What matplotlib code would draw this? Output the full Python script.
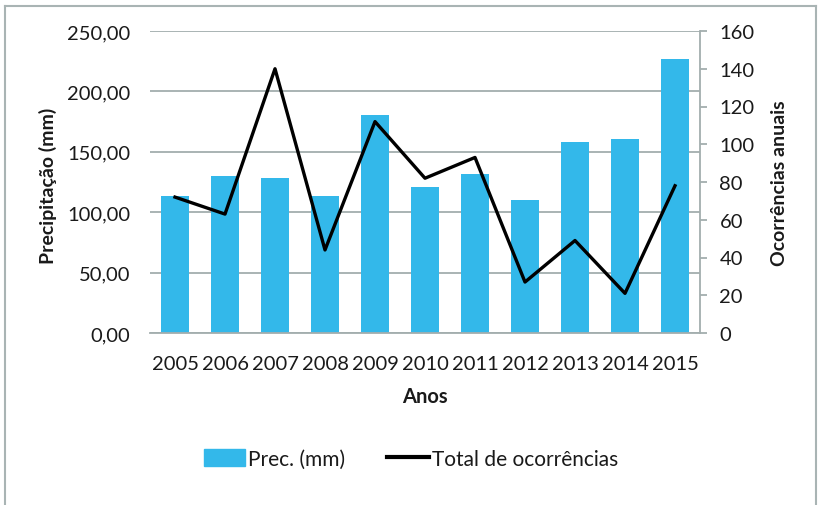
import matplotlib.pyplot as plt
from matplotlib.lines import Line2D
from matplotlib.patches import Patch

plt.rcParams["font.family"] = ["Lato", "DejaVu Sans"]

anos = ["2005", "2006", "2007", "2008", "2009", "2010",
        "2011", "2012", "2013", "2014", "2015"]
precipitacao = [113.5, 130, 128, 113.5, 180.5, 120.5,
                131.5, 110.5, 158, 161, 227]
ocorrencias = [72, 63, 140, 44, 112, 82, 93, 27, 49, 21, 78]

bar_color = "#33B8EA"
grid_color = "#A3AEAE"
txt = "#1a1a1a"

fig = plt.figure(figsize=(8.22, 5.06), dpi=100)
ax = fig.add_axes([150 / 822, 1 - 334 / 506, 550 / 822, 302 / 506])

x = list(range(len(anos)))
ax.bar(x, precipitacao, width=0.56, color=bar_color, zorder=2)
ax.set_xlim(-0.5, len(anos) - 0.5)
ax.set_ylim(0, 250)
ax.set_yticks([0, 50, 100, 150, 200, 250])
ax.set_yticklabels([f"{v:.2f}".replace(".", ",") for v in range(0, 251, 50)])
ax.set_xticks(x)
ax.set_xticklabels(anos)
ax.yaxis.grid(True, color=grid_color, linewidth=1.3, zorder=0)
ax.set_axisbelow(True)
for s in ["top", "left", "right"]:
    ax.spines[s].set_visible(False)
ax.spines["bottom"].set_color(grid_color)
ax.spines["bottom"].set_linewidth(1.3)
ax.tick_params(axis="y", length=0, pad=14, labelsize=14.5, colors=txt)
ax.tick_params(axis="x", length=0, pad=16, labelsize=14.5, colors=txt)

ax2 = ax.twinx()
ax2.plot(x, ocorrencias, color="black", linewidth=2.4, zorder=3)
ax2.set_ylim(0, 160)
ax2.set_yticks(range(0, 161, 20))
for s in ["top", "left", "bottom"]:
    ax2.spines[s].set_visible(False)
ax2.spines["right"].set_color(grid_color)
ax2.spines["right"].set_linewidth(1.3)
ax2.tick_params(axis="y", length=5, width=1.3, color=grid_color, pad=9,
                labelsize=14.5, labelcolor=txt)

fig.text(48 / 822, 1 - 186 / 506, "Precipitação (mm)", rotation=90,
         ha="center", va="center", fontsize=14, fontweight="bold", color=txt)
fig.text(779 / 822, 1 - 183 / 506, "Ocorrências anuais", rotation=90,
         ha="center", va="center", fontsize=14, fontweight="bold", color=txt)
fig.text(425 / 822, 1 - 397 / 506, "Anos", ha="center", va="center",
         fontsize=14.5, fontweight="bold", color=txt)

handles = [Patch(color=bar_color, label="Prec. (mm)"),
           Line2D([], [], color="black", linewidth=3, label="Total de ocorrências")]
fig.legend(handles=handles, loc="center", bbox_to_anchor=(411 / 822, 1 - 460 / 506),
           ncol=2, frameon=False, fontsize=15, handlelength=2.0, handleheight=0.9,
           handletextpad=0.15, columnspacing=2.0, labelcolor=txt)

# outer border (left, top, right)
border = dict(color="#A9B4B4", linewidth=1.5, transform=fig.transFigure)
fig.add_artist(Line2D([5 / 822, 5 / 822], [0, 1 - 7 / 506], **border))
fig.add_artist(Line2D([5 / 822, 816 / 822], [1 - 7 / 506, 1 - 7 / 506], **border))
fig.add_artist(Line2D([816 / 822, 816 / 822], [0, 1 - 7 / 506], **border))

fig.savefig("out.png", dpi=100)
